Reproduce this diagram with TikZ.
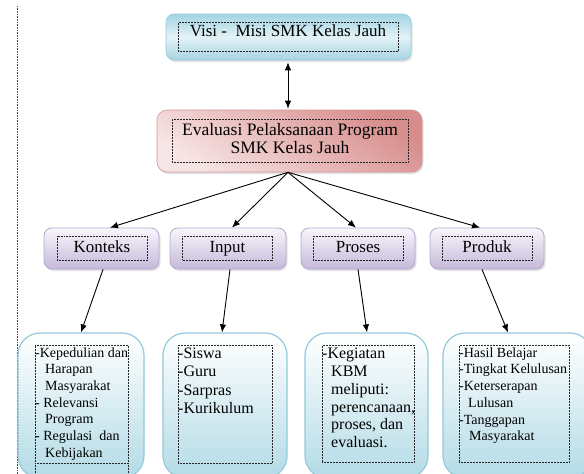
\documentclass[tikz,border=0pt]{standalone}
\usepackage{fontspec}
\setmainfont{Liberation Serif}
\usetikzlibrary{arrows.meta,calc,shadows}
\definecolor{blueEdge}{HTML}{95CCDC}
\definecolor{blueTop}{HTML}{A2D4E2}
\definecolor{blueMid}{HTML}{E3F2F7}
\definecolor{blueBot}{HTML}{A6D3E0}
\definecolor{redEdge}{HTML}{D39594}
\definecolor{redDark}{HTML}{D78D8C}
\definecolor{redLight}{HTML}{F7E4E4}
\definecolor{purEdge}{HTML}{B6A8CE}
\definecolor{purTop}{HTML}{F8F6FB}
\definecolor{purBot}{HTML}{C5B9DA}
\definecolor{lstEdge}{HTML}{92CADB}
\definecolor{lstBot}{HTML}{B3DBE6}
\begin{document}
\begin{tikzpicture}[x=1pt,y=-1pt,
  shad/.style={drop shadow={opacity=0.22, shadow xshift=1.5pt, shadow yshift=-2pt}},
  topbox/.style={shad, draw=blueEdge, line width=0.6pt, rounded corners=8pt,
    top color=blueTop, bottom color=blueBot, middle color=blueMid,
    minimum width=245pt, minimum height=46pt, inner sep=0pt},
  redbox/.style={shad, draw=redEdge, line width=0.6pt, rounded corners=10pt,
    top color=redDark, bottom color=redLight, shading angle=-35,
    minimum width=265pt, minimum height=62pt, inner sep=0pt},
  catbox/.style={shad, draw=purEdge, line width=0.8pt, rounded corners=8pt,
    top color=purTop, bottom color=purBot,
    minimum height=41pt, inner sep=0pt},
  lstbox/.style={draw=lstEdge, line width=1.2pt, rounded corners=22pt,
    top color=white, bottom color=lstBot,
    minimum height=145pt, inner sep=0pt},
  dotbox/.style={draw=black!85, densely dotted, line width=0.5pt, inner sep=0pt},
  arr/.style={-{Latex[length=8pt,width=6.5pt]}, line width=0.9pt},
  darr/.style={{Latex[length=8pt,width=6.5pt]}-{Latex[length=8pt,width=6.5pt]}, line width=0.9pt},
  lbl/.style={anchor=base, inner sep=0pt, font=\fontsize{17}{18}\selectfont},
  lst/.style={anchor=north west, inner sep=0pt, align=left}
]
\clip (0,0) rectangle (584,474);
\fill[white] (0,0) rectangle (584,474);

% page margin line
\coordinate (m1) at (17.5,6);
\coordinate (m2) at (17.5,474);
\draw[densely dotted, line width=0.6pt, black!70] (m1) -- (m2);

% top box
\node[topbox] (top) at (288.5,37) {};
\node[dotbox, minimum width=220pt, minimum height=29pt] (topin) at (288,36.5) {};
\node[lbl] (toptxt) at (288,36) {Visi -\ \ Misi SMK Kelas Jauh};

% evaluation box
\node[redbox] (red) at (289.5,141) {};
\node[dotbox, minimum width=236pt, minimum height=43pt] (redin) at (290,140.5) {};
\node[anchor=north, inner sep=0pt, align=center, font=\fontsize{17.5}{18}\selectfont] (redtxt) at (290,123.5)
  {Evaluasi Pelaksanaan Program\\SMK Kelas Jauh};

% category boxes
\node[catbox, minimum width=115pt] (kon) at (101.5,248.5) {};
\node[catbox, minimum width=116pt] (inp) at (228,248.5) {};
\node[catbox, minimum width=114pt] (pro) at (358,248.5) {};
\node[catbox, minimum width=114pt] (prd) at (487,248.5) {};
\foreach \n/\x in {kon/102, inp/227.5, pro/358, prd/487}{
  \node[dotbox, minimum width=90pt, minimum height=24pt] (\n in) at (\x,248) {};
}
\node[lbl] (kontxt) at (102,252) {Konteks};
\node[lbl] (inptxt) at (227.5,252) {Input};
\node[lbl] (protxt) at (358,252) {Proses};
\node[lbl] (prdtxt) at (487,252) {Produk};

% list boxes
\node[lstbox, minimum width=126pt] (b1) at (81,405.5) {};
\node[lstbox, minimum width=124pt] (b2) at (225,405.5) {};
\node[lstbox, minimum width=123pt] (b3) at (366.5,405.5) {};
\node[lstbox, minimum width=149pt] (b4) at (517.5,405.5) {};
\node[dotbox, minimum width=93pt, minimum height=118pt] (b1in) at (81.5,404) {};
\coordinate (b1l) at (35,463);
\coordinate (b1lb) at (35,474);
\coordinate (b1r) at (128,463);
\coordinate (b1rb) at (128,474);
\draw[densely dotted, line width=0.5pt, black!85] (b1l) -- (b1lb) (b1r) -- (b1rb);
\node[dotbox, minimum width=94pt, minimum height=118pt] (b2in) at (225,404) {};
\node[dotbox, minimum width=92pt, minimum height=117pt] (b3in) at (368,403.5) {};
\node[dotbox, minimum width=110pt, minimum height=117pt] (b4in) at (514,403.5) {};

\node[lst, font=\fontsize{14}{16.7}\selectfont] (t1) at (35,347.2)
  {-Kepedulian dan\\ \hspace*{10pt}Harapan\\ \hspace*{10pt}Masyarakat\\- Relevansi\\ \hspace*{10pt}Program\\- Regulasi\ \ dan\\ \hspace*{10pt}Kebijakan};
\node[lst, font=\fontsize{16}{18.2}\selectfont] (t2) at (178,348)
  {-Siswa\\-Guru\\-Sarpras\\-Kurikulum};
\node[lst, font=\fontsize{16}{17.8}\selectfont] (t3) at (322,348)
  {-Kegiatan\\ \hspace*{9pt}KBM\\ \hspace*{9pt}meliputi:\\ \hspace*{9pt}perencanaan,\\ \hspace*{9pt}proses, dan\\ \hspace*{9pt}evaluasi.};
\node[lst, font=\fontsize{14}{16.7}\selectfont] (t4) at (459,347.3)
  {-Hasil Belajar\\-Tingkat Kelulusan\\-Keterserapan\\ \hspace*{9pt}Lulusan\\-Tanggapan\\ \hspace*{10pt}Masyarakat};

% connectors
\draw[darr] ($(top.south)+(-0.5,2)$) -- ($(red.north)+(-1.5,-1)$);
\draw[arr] ($(red.south)+(-1.5,0)$) -- ($(kon.north)+(8.5,0)$);
\draw[arr] ($(red.south)+(-1.5,0)$) -- ($(inp.north)+(4,0)$);
\draw[arr] ($(red.south)+(-1.5,0)$) -- ($(pro.north)+(-2,0)$);
\draw[arr] ($(red.south)+(-1.5,0)$) -- ($(prd.north)+(-7,0)$);
\draw[arr] ($(kon.south)+(1.5,0)$) -- (b1.north);
\draw[arr] ($(inp.south)+(2,0)$) -- ($(b2.north)+(-3,0)$);
\draw[arr] (pro.south) -- ($(b3.north)+(0.5,0)$);
\draw[arr] ($(prd.south)+(-5,0)$) -- ($(b4.north)+(-9.5,0)$);
\end{tikzpicture}
\end{document}
